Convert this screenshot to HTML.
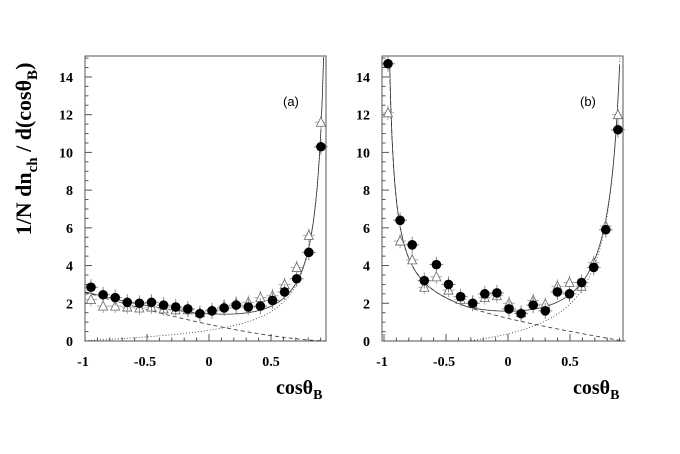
<!DOCTYPE html>
<html><head><meta charset="utf-8"><style>
html,body{margin:0;padding:0;background:#fff;}
svg{display:block;}
</style></head><body>
<svg id="s" width="680" height="454" xmlns="http://www.w3.org/2000/svg" font-family="Liberation Serif, serif">
<text transform="translate(31,149) rotate(-90)" text-anchor="middle" font-size="22" font-weight="bold">1/N dn<tspan font-size="15" dy="6">ch</tspan><tspan dy="-6"> / d(cosθ</tspan><tspan font-size="15" dy="6">B</tspan><tspan dy="-6">)</tspan></text>
<text x="276" y="394" font-size="20" font-weight="bold">cosθ<tspan font-size="14" dy="5">B</tspan></text>
<text x="573" y="394" font-size="20" font-weight="bold">cosθ<tspan font-size="14" dy="5">B</tspan></text>
<text x="283" y="106" font-size="13" font-family="Liberation Sans, sans-serif">(a)</text>
<text x="580" y="106" font-size="13" font-family="Liberation Sans, sans-serif">(b)</text>
</svg>
<script>
var s=document.getElementById('s'),NS='http://www.w3.org/2000/svg';
function el(t,a){var e=document.createElementNS(NS,t);for(var k in a)e.setAttribute(k,a[k]);s.appendChild(e);return e;}
function txt(x,y,t,anc){var e=el('text',{x:x,y:y,'font-size':14,'font-weight':'bold','text-anchor':anc});e.textContent=t;}
function panel(P){
 var X=function(x){return P.x0+124*(x+1);},Y=function(y){return 341-18.86*y;};
 el('rect',{x:P.l,y:56,width:P.r-P.l,height:285,fill:'none',stroke:'#555','stroke-width':1});
 for(var i=0;i<=30;i++){var y=Y(i*0.5);if(y<57)break;el('line',{x1:P.l,x2:P.l+(i%4==0?7:3.5),y1:y,y2:y,stroke:'#555'});if(i%4==0)txt(P.l-12,y+5,String(i/2),'end');}
 for(var i=0;i<=19;i++){var x=P.x0+12.4*i;el('line',{x1:x,x2:x,y1:341,y2:341-(i%5==0?7:3.5),stroke:'#555'});}
 [[-1,'-1'],[-0.5,'-0.5'],[0,'0'],[0.5,'0.5']].forEach(function(t){txt(X(t[0])+(t[0]<0?-2:0),366,t[1],'middle');});
 function curve(f,dash,w){var d='';for(var x=-0.999;x<0.95;x+=0.003){var v=f(x);if(v<0)v=0;var yy=Y(v);if(yy<56){if(d)break;else continue;}d+=(d?'L':'M')+X(x).toFixed(1)+','+yy.toFixed(1);}
  el('path',{d:d,fill:'none',stroke:'#333','stroke-width':w,'stroke-dasharray':dash});}
 curve(P.D,'4,3',0.8);curve(P.E,'1,2',0.8);curve(function(x){return Math.max(P.D(x),0)+Math.max(P.E(x),0);},'',0.8);
 P.tri.forEach(function(v,i){var x=P.px0+12.1*i,y=Y(v);el('line',{x1:x,x2:x,y1:y-7,y2:y+7,stroke:'#aaa'});el('line',{x1:x-6,x2:x+6,y1:y,y2:y,stroke:'#aaa'});
  el('polygon',{points:(x-4.5)+','+(y+4)+' '+(x+4.5)+','+(y+4)+' '+x+','+(y-5),fill:'#fff',stroke:'#666','stroke-width':0.8});});
 P.dot.forEach(function(v,i){var x=P.px0+12.1*i,y=Y(v);el('line',{x1:x,x2:x,y1:y-8,y2:y+8,stroke:'#888'});el('line',{x1:x-7,x2:x+7,y1:y,y2:y,stroke:'#888'});el('circle',{cx:x,cy:y,r:4.8,fill:'#000'});});
}
panel({x0:85,l:85,r:326,px0:91,
 D:function(x){return 0.95*Math.pow(Math.max(0.95-x,0),1.5);},
 E:function(x){return 0.72*Math.pow(1-x,-1.18)-0.3*(1-x)/2;},
 dot:[2.85,2.45,2.3,2.05,2.0,2.05,1.9,1.8,1.7,1.45,1.6,1.75,1.9,1.8,1.85,2.15,2.6,3.3,4.7,10.3],
 tri:[2.2,1.85,1.85,1.8,1.75,1.8,1.7,1.65,1.65,1.5,1.65,1.85,2.0,2.05,2.3,2.4,3.0,3.9,5.6,11.6]});
panel({x0:384,l:382,r:623,px0:388,
 D:function(x){return 0.6/(x+1)-0.31+0.98*(0.93-x);},
 E:function(x){return 1.58/(1-x)-1.2;},
 dot:[14.7,6.4,5.1,3.2,4.05,3.0,2.35,2.0,2.5,2.55,1.7,1.45,1.9,1.6,2.6,2.5,3.1,3.9,5.9,11.2],
 tri:[12.1,5.3,4.3,2.85,3.4,2.7,2.2,2.0,2.3,2.4,2.0,1.5,2.15,1.95,2.9,3.1,2.9,4.15,6.1,12.0]});
</script>
</body></html>
